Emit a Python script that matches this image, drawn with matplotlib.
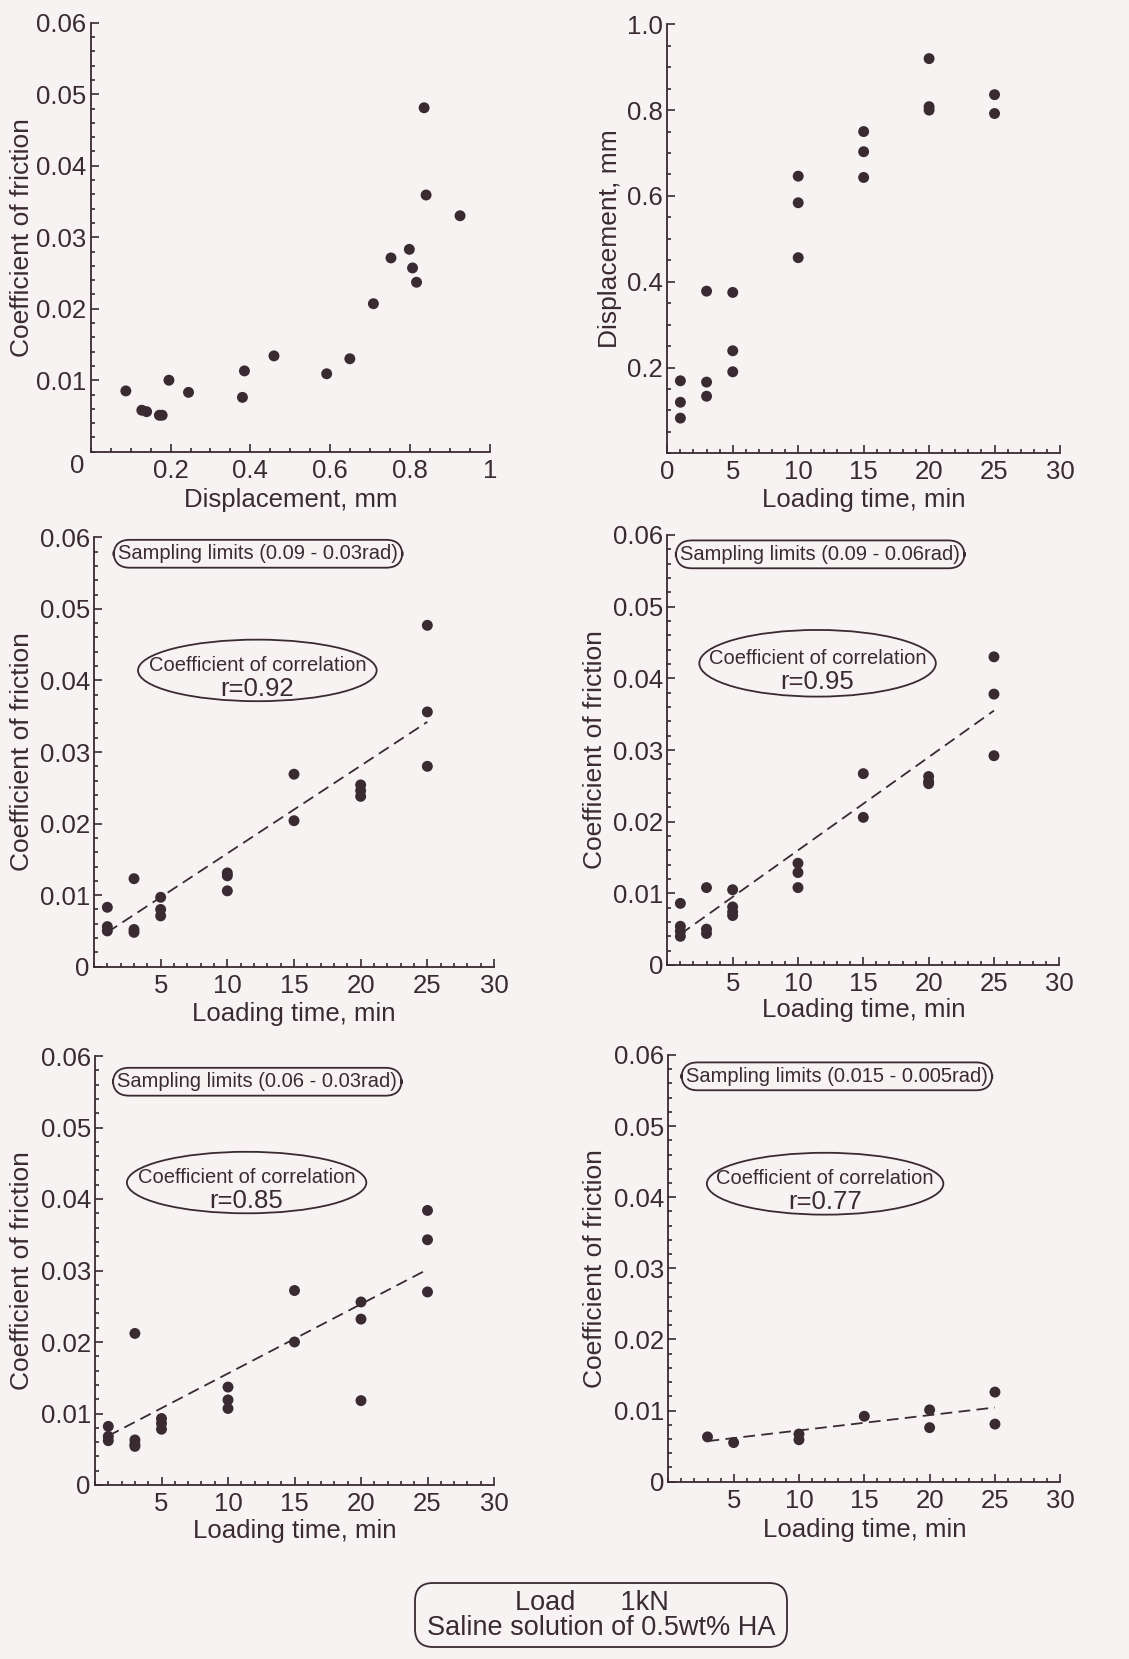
import matplotlib
matplotlib.use('Agg')
import matplotlib.pyplot as plt
from matplotlib.patches import Ellipse, FancyBboxPatch
from matplotlib.ticker import MultipleLocator, FixedLocator
from matplotlib.transforms import IdentityTransform
import numpy as np

plt.rcParams['font.family'] = ['Liberation Sans', 'DejaVu Sans']

BG = '#f7f3f3'
INK = '#3a2a32'

# ---------------- data ----------------
# Panel A: coefficient of friction vs displacement
a_disp = [0.088, 0.128, 0.140, 0.172, 0.179, 0.196, 0.245, 0.380, 0.385, 0.459,
          0.591, 0.649, 0.708, 0.752, 0.798, 0.806, 0.816, 0.835, 0.840, 0.925]
a_cof = [0.0085, 0.0058, 0.0056, 0.0051, 0.0051, 0.0100, 0.0083, 0.0076, 0.0113, 0.0134,
         0.0109, 0.0130, 0.0207, 0.0271, 0.0283, 0.0257, 0.0237, 0.0481, 0.0359, 0.0330]

# Panel B: displacement vs loading time
b_time = [1, 1, 1, 3, 3, 3, 5, 5, 5, 10, 10, 10, 15, 15, 15, 20, 20, 20, 25, 25]
b_disp = [0.169, 0.119, 0.082, 0.378, 0.166, 0.133, 0.375, 0.239, 0.190, 0.646,
          0.584, 0.456, 0.750, 0.703, 0.643, 0.920, 0.808, 0.800, 0.836, 0.792]

# Panel C: sampling limits 0.09 - 0.03 rad
c_time = [1, 1, 1, 3, 3, 3, 5, 5, 5, 10, 10, 10, 15, 15, 20, 20, 20, 25, 25, 25]
c_cof = [0.0083, 0.0056, 0.0050, 0.0123, 0.0052, 0.0048, 0.0097, 0.0080, 0.0071, 0.0131,
         0.0127, 0.0106, 0.0269, 0.0204, 0.0254, 0.0246, 0.0238, 0.0477, 0.0356, 0.0280]
c_fit = (0.001225, 0.00358)   # slope, intercept
c_fit_span = (1, 25)
c_r = 'r=0.92'
c_limits = 'Sampling limits (0.09 - 0.03rad)'

# Panel D: sampling limits 0.09 - 0.06 rad
d_time = [1, 1, 1, 1, 3, 3, 3, 5, 5, 5, 5, 10, 10, 10, 15, 15, 20, 20, 20, 25, 25, 25]
d_cof = [0.0086, 0.0054, 0.0047, 0.0040, 0.0108, 0.0050, 0.0044, 0.0105, 0.0081, 0.0074,
         0.0069, 0.0142, 0.0129, 0.0108, 0.0267, 0.0206, 0.0263, 0.0256, 0.0253, 0.0430,
         0.0378, 0.0292]
d_fit = (0.00130, 0.0030)
d_fit_span = (1, 25)
d_r = 'r=0.95'
d_limits = 'Sampling limits (0.09 - 0.06rad)'

# Panel E: sampling limits 0.06 - 0.03 rad
e_time = [1, 1, 1, 3, 3, 3, 3, 5, 5, 5, 10, 10, 10, 15, 15, 20, 20, 20, 25, 25, 25]
e_cof = [0.0082, 0.0068, 0.0062, 0.0212, 0.0063, 0.0057, 0.0054, 0.0093, 0.0086, 0.0078,
         0.0137, 0.0119, 0.0107, 0.0272, 0.0200, 0.0256, 0.0232, 0.0118, 0.0384, 0.0343,
         0.0270]
e_fit = (0.00097, 0.0059)
e_fit_span = (1, 25)
e_r = 'r=0.85'
e_limits = 'Sampling limits (0.06 - 0.03rad)'

# Panel F: sampling limits 0.015 - 0.005 rad
f_time = [3, 5, 10, 10, 15, 20, 20, 25, 25]
f_cof = [0.0063, 0.0055, 0.0067, 0.0059, 0.0092, 0.0101, 0.0076, 0.0126, 0.0081]
f_fit = (0.000215, 0.00506)
f_fit_span = (3, 25)
f_r = 'r=0.77'
f_limits = 'Sampling limits (0.015 - 0.005rad)'

time_ticks = [5, 10, 15, 20, 25, 30]
cof_ticks = [0, 0.01, 0.02, 0.03, 0.04, 0.05, 0.06]
cof_labels = ['0', '0.01', '0.02', '0.03', '0.04', '0.05', '0.06']
disp_ticks = [0.2, 0.4, 0.6, 0.8, 1.0]
disp_labels = ['0.2', '0.4', '0.6', '0.8', '1']
dispy_labels = ['0.2', '0.4', '0.6', '0.8', '1.0']

footer_lines = ['Load      1kN', 'Saline solution of 0.5wt% HA']

# ---------------- figure ----------------
W, H = 1129, 1659
fig = plt.figure(figsize=(W / 100, H / 100), dpi=100, facecolor=BG)


def px_rect(left, right, top, bottom):
    return [left / W, 1 - bottom / H, (right - left) / W, (bottom - top) / H]


def style(ax):
    ax.set_facecolor(BG)
    for s in ['top', 'right']:
        ax.spines[s].set_visible(False)
    for s in ['left', 'bottom']:
        ax.spines[s].set_color(INK)
        ax.spines[s].set_linewidth(1.3)
    ax.tick_params(which='both', direction='in', colors=INK, width=1.2,
                   labelsize=18.5, labelcolor=INK)
    ax.tick_params(which='major', length=6)
    ax.tick_params(which='minor', length=3)
    ax.tick_params(axis='y', pad=3)
    ax.tick_params(axis='x', pad=5)


def dots(ax, x, y):
    ax.scatter(x, y, s=62, color=INK, edgecolors='none', zorder=3, clip_on=False)


def set_labels(ax, xl, yl, ylx, xly):
    ax.set_xlabel(xl, fontsize=18.5, color=INK, va='center')
    ax.set_ylabel(yl, fontsize=19, color=INK, va='center')
    ax.yaxis.set_label_coords(ylx, 0.5)
    ax.xaxis.set_label_coords(0.5, xly)


def time_cof_panel(rect, t, c, fit, span, rtxt, limits, lim_xy, ell, ylx, xly):
    ax = fig.add_axes(rect)
    style(ax)
    dots(ax, t, c)
    xs = np.array(span, dtype=float)
    ax.plot(xs, fit[0] * xs + fit[1], color=INK, lw=1.3, ls=(0, (6.5, 3.5)), zorder=2)
    ax.set_xlim(0, 30)
    ax.set_ylim(0, 0.06)
    ax.xaxis.set_major_locator(FixedLocator(time_ticks))
    ax.set_xticklabels([str(v) for v in time_ticks])
    ax.xaxis.set_minor_locator(MultipleLocator(1))
    ax.yaxis.set_major_locator(FixedLocator(cof_ticks))
    ax.set_yticklabels(cof_labels)
    ax.yaxis.set_minor_locator(MultipleLocator(0.002))
    set_labels(ax, 'Loading time, min', 'Coefficient of friction', ylx, xly)
    ax.text(lim_xy[0], lim_xy[1], limits, fontsize=14.5, color=INK, ha='center', va='center',
            bbox=dict(boxstyle='round,pad=0.22,rounding_size=0.8', fc=BG, ec=INK, lw=1.3))
    ex, ey, ew, eh = ell
    ax.add_patch(Ellipse((ex, ey), ew, eh, fill=False, ec=INK, lw=1.3))
    ax.text(ex, ey + 0.0007, 'Coefficient of correlation', fontsize=14.5, color=INK,
            ha='center', va='center')
    ax.text(ex, ey - 0.0026, rtxt, fontsize=18.5, color=INK, ha='center', va='center')
    return ax


# Panel A
axA = fig.add_axes(px_rect(90.7, 490, 22.7, 451.7))
style(axA)
dots(axA, a_disp, a_cof)
axA.set_xlim(0, 1.0)
axA.set_ylim(0, 0.06)
axA.xaxis.set_major_locator(FixedLocator(disp_ticks))
axA.set_xticklabels(disp_labels)
axA.xaxis.set_minor_locator(MultipleLocator(0.05))
axA.yaxis.set_major_locator(FixedLocator(cof_ticks[1:]))
axA.set_yticklabels(cof_labels[1:])
axA.yaxis.set_minor_locator(MultipleLocator(0.002))
set_labels(axA, 'Displacement, mm', 'Coefficient of friction', -0.172, -0.113)
axA.annotate('0', xy=(0, 0), xytext=(-10, -10), textcoords='offset points',
             fontsize=18.5, color=INK, ha='center', va='center')

# Panel B
axB = fig.add_axes(px_rect(667.3, 1060, 24.3, 453.3))
style(axB)
dots(axB, b_time, b_disp)
axB.set_xlim(0, 30)
axB.set_ylim(0, 1.0)
axB.xaxis.set_major_locator(FixedLocator([0] + time_ticks))
axB.set_xticklabels(['0'] + [str(v) for v in time_ticks])
axB.xaxis.set_minor_locator(MultipleLocator(1))
axB.yaxis.set_major_locator(FixedLocator(disp_ticks))
axB.set_yticklabels(dispy_labels)
axB.yaxis.set_minor_locator(MultipleLocator(0.05))
set_labels(axB, 'Loading time, min', 'Displacement, mm', -0.146, -0.109)

# Panels C-F
time_cof_panel(px_rect(94, 494, 537.3, 966.7), c_time, c_cof, c_fit, c_fit_span, c_r,
               c_limits, (12.3, 0.0577), (12.25, 0.0414, 17.9, 0.0086), -0.181, -0.111)
time_cof_panel(px_rect(667.3, 1059.3, 535, 965), d_time, d_cof, d_fit, d_fit_span, d_r,
               d_limits, (11.7, 0.0573), (11.5, 0.0421, 18.1, 0.0093), -0.184, -0.105)
time_cof_panel(px_rect(95, 494, 1056, 1485), e_time, e_cof, e_fit, e_fit_span, e_r,
               e_limits, (12.2, 0.0564), (11.4, 0.0423, 18.0, 0.0086), -0.184, -0.107)
time_cof_panel(px_rect(668.3, 1060.3, 1055, 1481.7), f_time, f_cof, f_fit, f_fit_span, f_r,
               f_limits, (12.9, 0.0570), (12.0, 0.0419, 18.1, 0.0087), -0.187, -0.113)

# Footer box
fig.add_artist(FancyBboxPatch((415, H - 1647), 372, 64,
                              boxstyle='round,pad=0,rounding_size=18',
                              transform=IdentityTransform(), fc=BG, ec=INK, lw=1.3))
fig.text(592 / W, 1 - 1603 / H, footer_lines[0], fontsize=19.5, color=INK,
         ha='center', va='center')
fig.text(601 / W, 1 - 1628 / H, footer_lines[1], fontsize=19.5, color=INK,
         ha='center', va='center')

fig.savefig('out.png', dpi=100, facecolor=BG)
